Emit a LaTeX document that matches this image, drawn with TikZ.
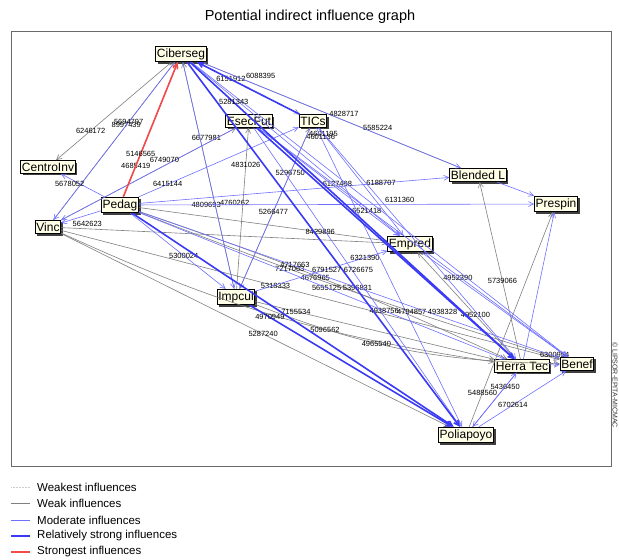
\documentclass[tikz,border=0pt]{standalone}
\usepackage{fontspec}
\setmainfont{Liberation Sans}
\usetikzlibrary{arrows.meta, shadows}
\definecolor{cream}{HTML}{FFFFE8}
\definecolor{weakgray}{HTML}{7F7F7F}
\definecolor{modblue}{HTML}{6E6EFF}
\definecolor{strongblue}{HTML}{3A3AF5}
\definecolor{redinf}{HTML}{F24A4A}
\definecolor{framegray}{HTML}{6A6A6A}
\tikzset{
	factor/.style={rectangle, draw=black, line width=0.8pt, fill=cream,
		inner xsep=1.2pt, inner ysep=2.2pt, font=\fontsize{12}{13}\selectfont,
		drop shadow={shadow xshift=2pt, shadow yshift=-2pt, fill=black!75, opacity=1}},
	infl/.style={-{Straight Barb[length=5pt, width=5pt]}},
	weakest/.style={infl, draw=gray!40, densely dotted, line width=0.5pt},
	weak/.style={infl, draw=weakgray, line width=0.6pt},
	moderate/.style={infl, draw=modblue, line width=0.6pt},
	strong/.style={infl, draw=strongblue, line width=1.6pt},
	strongest/.style={infl, draw=redinf, line width=1.6pt},
	lbl/.style={font=\fontsize{7.5}{8}\selectfont, inner sep=0.5pt, text=black},
}

\begin{document}
\begin{tikzpicture}[x=1pt, y=-1pt]
\useasboundingbox (0,0) rectangle (619,560);

\node[font=\fontsize{14.5}{16}\selectfont] (title) at (310,17) {Potential indirect influence graph};
\draw[framegray, line width=1pt] (11,31) rectangle (611,466);
\node[rotate=-90, font=\fontsize{7}{8}\selectfont, text=black!80] (copy) at (615,385) {© LIPSOR-EPITA-MICMAC};

% factors
\node[factor] (C) at (181,54) {Ciberseg};
\node[factor] (CI) at (48,167) {CentroInv};
\node[factor] (P) at (120,205) {Pedag};
\node[factor] (V) at (48,227) {Vinc};
\node[factor] (E) at (249,121) {EsecFut};
\node[factor] (T) at (313,121) {TICs};
\node[factor] (B) at (478,175) {Blended L};
\node[factor] (Pr) at (556,204) {Prespin};
\node[factor] (Em) at (410,244) {Empred};
\node[factor] (I) at (236,297) {Impcul};
\node[factor] (H) at (522,366) {Herra Tec};
\node[factor] (Be) at (577,364) {Benef};
\node[factor] (Po) at (466,435) {Poliapoyo};

% weak influences
\foreach \a/\b/\val/\p in {C/CI/6246172/.70, V/C/8997439/.60, C/T/6151912/.33,
	P/C/4685419/.23, I/E/4831026/.77, I/T/5296750/.72,
	P/Em/8429896/.73, V/Po/5287240/.52, V/Be/5318333/.43, I/H/7155534/.17,
	H/B/5739066/.44, H/Em/4952100/.41, Po/Pr/5488560/.16}
	\draw[weak] (\a) -- node[lbl, pos=\p] {\val} (\b);
\draw[weak] (I) -- node[lbl, pos=.37, xshift=-9pt] {4809693} (C);
\draw[weak] (B) -- node[lbl, pos=.32, above=3pt] {5585224} (C);
\draw[weak] (V) -- node[lbl, pos=.83, above=2pt] {6677981} (E);
\draw[weak] (V) -- node[lbl, pos=.08, above=1pt] {5642623} (Em);
\draw[weak] (V) to[bend right=8] node[lbl, pos=.63] {5096562} (H);
\draw[weak] (I) to[bend right=10] node[lbl, pos=.4] {4965540} (Be);
\draw[weak] (P) to[bend left=3] node[lbl, pos=.41, yshift=3pt] {4717663} node[lbl, pos=.47, yshift=-2pt] {4676965} (H);
\draw[weak] (P) to[bend right=2] node[lbl, pos=.35] {7217063}
	node[lbl, pos=.485, anchor=east] {5655125} node[lbl, pos=.485, anchor=west] {5396831} (Be);

% moderate influences
\foreach \a/\b/\val/\p in {C/V/5694797/.38, P/T/6415144/.18, P/B/6188707/.78,
	C/Em/6127498/.70, P/I/5300024/.56, Em/Be/4952390/.25, Po/H/5436450/.74,
	Po/Be/6702614/.39, E/Em/6521418/.77, I/Em/6321390/.83, T/Em/4601195/.06,
	T/Po/4601136/.03, T/I/5266477/.52, P/H/4938756/.67}
	\draw[moderate] (\a) -- node[lbl, pos=\p] {\val} (\b);
\draw[moderate] (C) -- node[lbl, pos=.62, xshift=20pt] {4760262} (I);
\draw[moderate] (C) -- node[lbl, pos=.55, above=3pt] {4828717} (B);
\draw[moderate] (P) -- node[lbl, pos=.8, below=2pt] {5678052} (CI);
\draw[moderate] (P) -- node[lbl, pos=.66, above=1pt] {6131360} (Pr);
\draw[moderate] (H) -- node[lbl, pos=.5, above=6pt] {6300954} (Be);
\draw[moderate] (E) -- node[lbl, pos=.41, above=2pt] {6749070} (V);
\draw[moderate] (P) -- node[lbl, pos=.685, anchor=east] {4794857}
	node[lbl, pos=.685, anchor=west] {4938328} (Be);
\foreach \a/\b in {P/V, B/Pr, H/Pr, H/Po, T/H, E/Be, C/Be, E/Po}
	\draw[moderate] (\a) -- (\b);

% relatively strong influences
\draw[strong] (T) -- node[lbl, pos=.38, above=15pt] {6088395} (C);
\draw[strong] (C) -- node[lbl, pos=.135] {5281343} (H);
\draw[strong] (C) -- node[lbl, pos=.57, anchor=east] {6791527}
	node[lbl, pos=.57, anchor=west] {6726675} (Po);
\draw[strong] (I) -- node[lbl, pos=.1] {4970949} (Po);
\draw[strong] (P) -- (Po);
\draw[strong] (E) -- (H);

% strongest influences
\draw[strongest] (P) -- node[lbl, pos=.32] {5146565} (C);

% legend
\foreach \y/\s/\txt in {487/weakest/Weakest influences, 503/weak/Weak influences,
	520/moderate/Moderate influences, 536/strong/Relatively strong influences,
	552/strongest/Strongest influences}
{
	\draw[\s, -] (11,\y) -- (30,\y);
	\node[anchor=west, font=\fontsize{11.5}{13}\selectfont, inner sep=0pt] (leg-\s) at (37,\y) {\txt};
}
\end{tikzpicture}
\end{document}
